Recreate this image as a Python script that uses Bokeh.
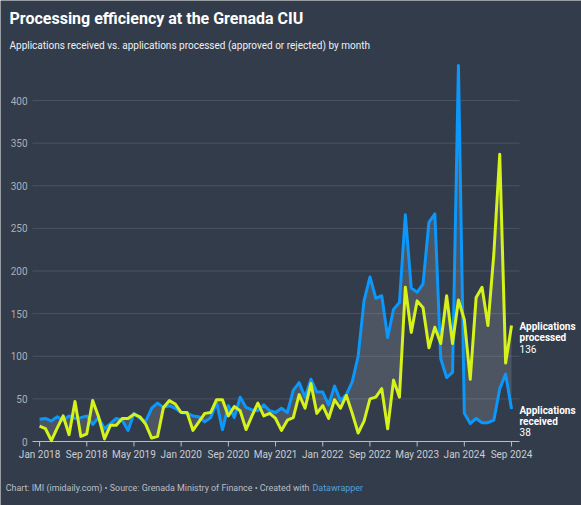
from bokeh.plotting import figure
from bokeh.models import Label, Range1d
from bokeh.embed import file_html
from bokeh.resources import INLINE

# Monthly series, Jan 2018 .. Sep 2024 (81 months)
months = list(range(81))
received = [26, 27, 24, 29, 25, 30, 27, 28, 30, 20,
            28, 15, 21, 27, 25, 13, 33, 27, 24, 39,
            45, 40, 42, 39, 34, 33, 30, 29, 23, 28,
            46, 14, 42, 28, 52, 40, 37, 36, 43, 36,
            34, 39, 34, 60, 69, 52, 73, 58, 58, 43,
            65, 48, 55, 70, 100, 165, 193, 168, 171, 122,
            155, 163, 266, 180, 175, 185, 257, 267, 97, 75,
            81, 441, 33, 21, 27, 22, 22, 25, 62, 79,
            38]
processed = [18, 15, 1, 16, 30, 8, 47, 6, 9, 48,
             29, 3, 19, 19, 27, 27, 32, 29, 20, 4,
             6, 40, 48, 44, 34, 34, 13, 23, 33, 34,
             49, 49, 30, 41, 36, 14, 30, 45, 30, 33,
             27, 13, 25, 28, 55, 39, 68, 33, 42, 27,
             49, 39, 54, 33, 10, 24, 50, 52, 62, 15,
             72, 52, 181, 128, 165, 157, 110, 134, 115, 171,
             115, 166, 143, 73, 169, 181, 136, 220, 337, 92,
             136]

tick_months = [0, 8, 16, 24, 32, 40, 48, 56, 64, 72, 80]
tick_labels = ["Jan 2018", "Sep 2018", "May 2019", "Jan 2020", "Sep 2020",
               "May 2021", "Jan 2022", "Sep 2022", "May 2023", "Jan 2024", "Sep 2024"]
y_ticks = [0, 50, 100, 150, 200, 250, 300, 350, 400]

W, H = 581, 505
BG = "#333c4b"
BLUE = "#0c97fa"
LIME = "#d5f21b"
GRID = "#4a5362"
BASE = "#b9bec6"
FONT = "Roboto"

# plotting area in canvas pixels and the data span it shows
LEFT, RIGHT, TOP, BOTTOM = 32, 519, 60, 441
XMIN, XMAX = -1.2, 81.35
YMIN, YMAX = 0, 447
SX = (RIGHT - LEFT) / (XMAX - XMIN)
SY = (BOTTOM - TOP) / (YMAX - YMIN)


def px_x(px):
    return XMIN + (px - LEFT) / SX


def px_y(py):
    return YMIN + (BOTTOM - py) / SY


# the figure's frame spans the whole canvas; the chart area is a sub-rectangle
p = figure(width=W, height=H, output_backend="svg", toolbar_location=None,
           title=None, x_axis_type=None, y_axis_type=None,
           x_range=Range1d(px_x(0), px_x(W)), y_range=Range1d(px_y(H), px_y(0)),
           min_border=0, background_fill_color=BG, border_fill_color=BG,
           outline_line_color=None)
p.grid.visible = False

# horizontal grid
grid_vals = [v for v in y_ticks if v != 0]
p.segment(x0=[XMIN] * len(grid_vals), x1=[XMAX] * len(grid_vals),
          y0=grid_vals, y1=grid_vals, line_color=GRID, line_width=1)

# gap between received and processed
p.varea(x=months, y1=received, y2=processed, fill_color="#ffffff", fill_alpha=0.13)

# baseline and x ticks
p.segment(x0=[XMIN], x1=[XMAX], y0=[0], y1=[0], line_color=BASE, line_width=1)
p.segment(x0=tick_months, x1=tick_months, y0=[0] * len(tick_months),
          y1=[px_y(BOTTOM + 5)] * len(tick_months), line_color=BASE, line_width=1)
p.text(x=tick_months, y=[px_y(454)] * len(tick_months), text=tick_labels,
       text_font={"value": FONT}, text_font_size="10px", text_color="#c9cdd3",
       text_align="center", text_baseline="middle")

# y tick labels
p.text(x=[px_x(27)] * len(y_ticks), y=y_ticks, text=[str(v) for v in y_ticks],
       text_font={"value": FONT}, text_font_size="10px", text_color="#a9afb8",
       text_align="right", text_baseline="middle")

# series
p.line(months, received, line_color=BLUE, line_width=3, line_join="round")
p.line(months, processed, line_color=LIME, line_width=3, line_join="round")


def canvas_label(text, x, y, size, color, bold=False, align="left"):
    p.add_layout(Label(x=px_x(x), y=px_y(y), text=text, text_font=FONT,
                       text_font_size=size, text_color=color, text_align=align,
                       text_baseline="middle",
                       text_font_style="bold" if bold else "normal"))


canvas_label("Processing efficiency at the Grenada CIU", 9, 18, "16px", "#ffffff", bold=True)
canvas_label("Applications received vs. applications processed (approved or rejected) by month",
             9, 45, "10px", "#eef0f3")
canvas_label("Chart: IMI (imidaily.com) \u2022 Source: Grenada Ministry of Finance \u2022 Created with",
             309, 487, "8.9px", "#b9bec6", align="right")
canvas_label("Datawrapper", 312, 487, "8.9px", "#4fa3dc")


def end_label(series, lines):
    last = series[-1]
    texts = lines + [str(last)]
    for i, t in enumerate(texts):
        p.add_layout(Label(x=months[-1] + 8 / SX, y=last - (1 + 11 * i) / SY,
                           text=t, text_font=FONT, text_font_size="10px",
                           text_color="#ffffff", text_baseline="middle",
                           text_font_style="bold" if i < len(lines) else "normal"))


end_label(processed, ["Applications", "processed"])
end_label(received, ["Applications", "received"])

open("out.html", "w").write(file_html(p, INLINE))
